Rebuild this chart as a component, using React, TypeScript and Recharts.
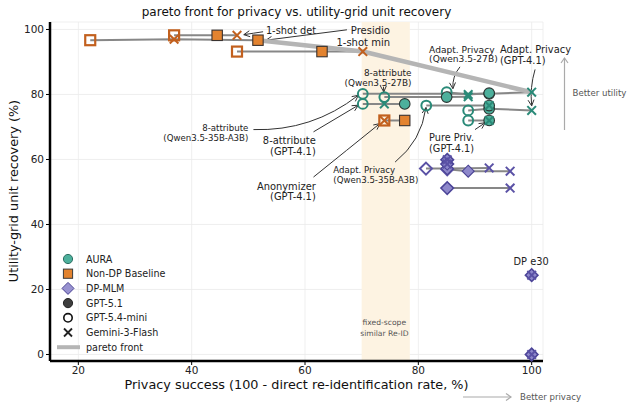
import React from 'react';
import {
  ComposedChart,
  Scatter,
  XAxis,
  YAxis,
  CartesianGrid,
  ReferenceArea,
  ReferenceLine,
  ReferenceDot,
} from 'recharts';

type Pt = { x: number; y: number };

const FONT = '"DejaVu Sans", Verdana, sans-serif';

const xTicks = [20, 40, 60, 80, 100];
const yTicks = [0, 20, 40, 60, 80, 100];

// AURA rewrites; index i is the same rewriting setup for all three evaluator models
const auraMini: Pt[] = [
  { x: 70.2, y: 80.2 },
  { x: 70.2, y: 77.1 },
  { x: 74.0, y: 79.2 },
  { x: 85.0, y: 80.7 },
  { x: 88.8, y: 75.1 },
  { x: 81.4, y: 76.6 },
  { x: 88.8, y: 72.0 },
];
const auraGpt51: Pt[] = [
  { x: 92.5, y: 80.2 },
  { x: 77.6, y: 77.1 },
  { x: 85.0, y: 79.2 },
  { x: 92.5, y: 80.4 },
  { x: 92.5, y: 75.6 },
  { x: 92.5, y: 76.6 },
  { x: 92.5, y: 72.0 },
];
const auraGemini: Pt[] = [
  { x: 100, y: 80.7 },
  { x: 74.0, y: 77.1 },
  { x: 88.8, y: 79.3 },
  { x: 88.8, y: 80.0 },
  { x: 100, y: 75.1 },
  { x: 92.5, y: 76.6 },
  { x: 92.5, y: 72.0 },
];

// Non-DP baselines (Presidio variants, anonymizer)
const baseMini: Pt[] = [
  { x: 22.1, y: 96.7 },
  { x: 36.9, y: 98.2 },
  { x: 48.0, y: 93.2 },
  { x: 74.0, y: 72.0 },
];
const baseGpt51: Pt[] = [
  { x: 51.7, y: 96.7 },
  { x: 44.5, y: 98.2 },
  { x: 63.0, y: 93.2 },
  { x: 77.6, y: 72.0 },
];
const baseGemini: Pt[] = [
  { x: 36.9, y: 97.0 },
  { x: 48.0, y: 98.2 },
  { x: 70.2, y: 93.2 },
  { x: 74.0, y: 72.0 },
];

// DP-MLM at several privacy budgets
const dpMini: Pt[] = [
  { x: 81.35, y: 57.2 },
  { x: 85.1, y: 57.0 },
  { x: 85.1, y: 51.2 },
  { x: 85.1, y: 59.9 },
  { x: 85.1, y: 58.6 },
  { x: 100, y: 24.4 },
  { x: 100, y: 0 },
];
const dpGpt51: Pt[] = [
  { x: 85.1, y: 57.2 },
  { x: 88.8, y: 56.4 },
  { x: 85.1, y: 51.2 },
  { x: 85.1, y: 59.9 },
  { x: 85.1, y: 58.6 },
  { x: 100, y: 24.4 },
  { x: 100, y: 0 },
];
const dpGemini: Pt[] = [
  { x: 92.5, y: 57.4 },
  { x: 96.2, y: 56.4 },
  { x: 96.2, y: 51.2 },
  { x: 85.1, y: 59.9 },
  { x: 85.1, y: 58.6 },
  { x: 100, y: 24.4 },
  { x: 100, y: 0 },
];

const paretoFront: Pt[] = [
  { x: 51.7, y: 96.7 },
  { x: 70.2, y: 93.2 },
  { x: 100, y: 80.7 },
];

// privacy range where fixed-scope runs give similar re-identification
const similarReIdBand = { from: 70, to: 78.5 };

type Note = {
  lines: string[];
  x: number;
  y: number;
  anchor: 'start' | 'middle' | 'end';
  size: number;
  lh: number;
  color?: string;
  arrow?: { x1: number; y1: number; x2: number; y2: number; rad: number };
};

const notes: Note[] = [
  { lines: ['1-shot det'], x: 53.1, y: 99.8, anchor: 'start', size: 9.8, lh: 12,
    arrow: { x1: 52.6, y1: 99.3, x2: 49.2, y2: 98.4, rad: 0 } },
  { lines: ['Presidio', '1-shot min'], x: 75.0, y: 99.8, anchor: 'end', size: 10, lh: 12.7,
    arrow: { x1: 67.4, y1: 99.9, x2: 53.1, y2: 96.7, rad: 0 } },
  { lines: ['8-attribute', '(Qwen3.5-27B)'], x: 78.8, y: 86.6, anchor: 'end', size: 8.9, lh: 9.8,
    arrow: { x1: 73.85, y1: 82.4, x2: 73.9, y2: 80.8, rad: 0 } },
  { lines: ['Adapt. Privacy', '(Qwen3.5-27B)'], x: 81.9, y: 93.8, anchor: 'start', size: 9.1, lh: 9.8,
    arrow: { x1: 87.35, y1: 88.5, x2: 86.1, y2: 81.8, rad: 0.2 } },
  { lines: ['Adapt. Privacy', '(GPT-4.1)'], x: 94.4, y: 93.8, anchor: 'start', size: 9.9, lh: 10.7,
    arrow: { x1: 100.6, y1: 87.7, x2: 100.0, y2: 76.5, rad: 0.1 } },
  { lines: ['8-attribute', '(Qwen3.5-35B-A3B)'], x: 50.0, y: 69.7, anchor: 'end', size: 8.6, lh: 10,
    arrow: { x1: 50.9, y1: 69.2, x2: 69.4, y2: 79.75, rad: 0.18 } },
  { lines: ['8-attribute', '(GPT-4.1)'], x: 61.9, y: 65.7, anchor: 'end', size: 9.9, lh: 10.3,
    arrow: { x1: 61.5, y1: 68.5, x2: 69.4, y2: 76.7, rad: 0 } },
  { lines: ['Anonymizer', '(GPT-4.1)'], x: 61.9, y: 51.75, anchor: 'end', size: 9.9, lh: 10.7,
    arrow: { x1: 61.5, y1: 54.6, x2: 73.2, y2: 71.05, rad: 0 } },
  { lines: ['Adapt. Privacy', '(Qwen3.5-35B-A3B)'], x: 65.0, y: 56.7, anchor: 'start', size: 8.6, lh: 9.3,
    arrow: { x1: 75.9, y1: 59.2, x2: 81.35, y2: 76.0, rad: 0.2 } },
  { lines: ['Pure Priv.', '(GPT-4.1)'], x: 81.9, y: 66.9, anchor: 'start', size: 9.7, lh: 11.6,
    arrow: { x1: 90.0, y1: 69.2, x2: 91.8, y2: 71.3, rad: 0 } },
  { lines: ['DP e30'], x: 99.9, y: 28.7, anchor: 'middle', size: 9.8, lh: 12 },
  { lines: ['fixed-scope', 'similar Re-ID'], x: 74.0, y: 9.7, anchor: 'middle', size: 7.6, lh: 10.6, color: '#555' },
];

type Family = 'aura' | 'base' | 'dp';
type Model = 'mini' | 'gpt51' | 'gemini';

const PALETTE: Record<Family, { edge: string; fill: string; dark: string }> = {
  aura: { edge: '#2a8a78', fill: '#4db09c', dark: '#2b3533' },
  base: { edge: '#c2601e', fill: '#e3832f', dark: '#3a3330' },
  dp: { edge: '#5a51a5', fill: '#8e88cb', dark: '#4a4394' },
};

function Marker({ family, model, cx, cy }: { family: Family; model: Model; cx: number; cy: number }) {
  const c = PALETTE[family];
  if (cx == null || cy == null) return <g />;
  if (model === 'gemini') {
    const s = 4.3;
    return (
      <g stroke={c.edge} strokeWidth={2} strokeLinecap="butt">
        <line x1={cx - s} y1={cy - s} x2={cx + s} y2={cy + s} />
        <line x1={cx - s} y1={cy + s} x2={cx + s} y2={cy - s} />
      </g>
    );
  }
  const filled = model === 'gpt51';
  const fill = filled ? c.fill : 'none';
  const stroke = filled ? c.dark : c.edge;
  const sw = filled ? 1.1 : 2;
  if (family === 'aura') {
    return <circle cx={cx} cy={cy} r={filled ? 5.3 : 4.9} fill={fill} stroke={stroke} strokeWidth={sw} />;
  }
  if (family === 'base') {
    const h = filled ? 5.2 : 5;
    return <rect x={cx - h} y={cy - h} width={2 * h} height={2 * h} fill={fill} stroke={stroke} strokeWidth={filled ? 1.1 : 2.2} />;
  }
  const h = 6;
  return (
    <polygon
      points={`${cx},${cy - h} ${cx + h},${cy} ${cx},${cy + h} ${cx - h},${cy}`}
      fill={fill}
      stroke={stroke}
      strokeWidth={filled ? 1.1 : 2}
    />
  );
}

function Arrow(p: any) {
  const { x1, y1, x2, y2, rad } = p;
  const mx = (x1 + x2) / 2;
  const my = (y1 + y2) / 2;
  const dx = x2 - x1;
  const dy = y2 - y1;
  const qx = mx - rad * dy;
  const qy = my + rad * dx;
  const tx = x2 - qx;
  const ty = y2 - qy;
  const len = Math.hypot(tx, ty) || 1;
  const ux = tx / len;
  const uy = ty / len;
  const hl = 6;
  const hw = 3;
  const bx = x2 - ux * hl;
  const by = y2 - uy * hl;
  return (
    <g fill="none" stroke="#333" strokeWidth={1}>
      <path d={`M${x1},${y1} Q${qx},${qy} ${x2},${y2}`} />
      <polyline points={`${bx - uy * hw},${by + ux * hw} ${x2},${y2} ${bx + uy * hw},${by - ux * hw}`} />
    </g>
  );
}

function NoteText({ cx, cy, note }: { cx: number; cy: number; note: Note }) {
  return (
    <g>
      {note.lines.map((t, i) => (
        <text
          key={i}
          x={cx}
          y={cy + i * note.lh}
          textAnchor={note.anchor}
          dominantBaseline="central"
          fontSize={note.size}
          fontFamily={FONT}
          fill={note.color ?? '#222'}
        >
          {t}
        </text>
      ))}
    </g>
  );
}

const connectorsOf = (a: Pt[], b: Pt[], c: Pt[]) =>
  a.map((_, i) => [a[i], b[i], c[i]].slice().sort((p, q) => p.x - q.x));

const groups: { family: Family; mini: Pt[]; gpt51: Pt[]; gemini: Pt[] }[] = [
  { family: 'base', mini: baseMini, gpt51: baseGpt51, gemini: baseGemini },
  { family: 'aura', mini: auraMini, gpt51: auraGpt51, gemini: auraGemini },
  { family: 'dp', mini: dpMini, gpt51: dpGpt51, gemini: dpGemini },
];

const legendItems: { label: string; kind: string }[] = [
  { label: 'AURA', kind: 'aura' },
  { label: 'Non-DP Baseline', kind: 'base' },
  { label: 'DP-MLM', kind: 'dp' },
  { label: 'GPT-5.1', kind: 'gpt51' },
  { label: 'GPT-5.4-mini', kind: 'mini' },
  { label: 'Gemini-3-Flash', kind: 'gemini' },
  { label: 'pareto front', kind: 'pareto' },
];

function LegendGlyph({ kind, x, y }: { kind: string; x: number; y: number }) {
  switch (kind) {
    case 'aura':
      return <circle cx={x} cy={y} r={4.6} fill="#4db09c" stroke="#2c6e62" strokeWidth={1} />;
    case 'base':
      return <rect x={x - 4.6} y={y - 4.6} width={9.2} height={9.2} fill="#e3832f" stroke="#3a3a3a" strokeWidth={1} />;
    case 'dp':
      return <polygon points={`${x},${y - 6} ${x + 6},${y} ${x},${y + 6} ${x - 6},${y}`} fill="#9892d0" stroke="#4a4394" strokeWidth={1} />;
    case 'gpt51':
      return <circle cx={x} cy={y} r={4.6} fill="#3d3d3d" stroke="#222" strokeWidth={1} />;
    case 'mini':
      return <circle cx={x} cy={y} r={4.2} fill="none" stroke="#111" strokeWidth={1.6} />;
    case 'gemini':
      return (
        <g stroke="#222" strokeWidth={1.8}>
          <line x1={x - 4} y1={y - 4} x2={x + 4} y2={y + 4} />
          <line x1={x - 4} y1={y + 4} x2={x + 4} y2={y - 4} />
        </g>
      );
    default:
      return <line x1={x - 11} y1={y} x2={x + 12} y2={y} stroke="#b5b5b5" strokeWidth={4} />;
  }
}

const blank = () => <g />;

export default function App() {
  return (
    <div style={{ position: 'absolute', left: 0, top: 0, width: 638, height: 410, background: '#fff' }}>
      <ComposedChart width={638} height={410} margin={{ top: 22, right: 95, bottom: 0, left: 0 }}>
        <ReferenceArea
          x1={similarReIdBand.from}
          x2={similarReIdBand.to}
          fill="#fdf3e2"
          fillOpacity={1}
          stroke="none"
        />
        <CartesianGrid stroke="#ebebeb" strokeWidth={0.8} />
        <XAxis
          type="number"
          dataKey="x"
          domain={[15, 102]}
          ticks={xTicks}
          height={49}
          tickSize={4}
          axisLine={{ stroke: '#000', strokeWidth: 2.5 }}
          tickLine={{ stroke: '#000' }}
          tick={{ fill: '#222', fontSize: 10.5, fontFamily: FONT }}
        />
        <YAxis
          type="number"
          dataKey="y"
          domain={[-2, 102.3]}
          ticks={yTicks}
          width={50}
          tickSize={4}
          axisLine={{ stroke: '#000', strokeWidth: 2.5 }}
          tickLine={{ stroke: '#000' }}
          tick={{ fill: '#222', fontSize: 10.5, fontFamily: FONT }}
        />
        {groups.flatMap((g) =>
          connectorsOf(g.mini, g.gpt51, g.gemini).map((seg, i) => (
            <Scatter
              key={`${g.family}-link-${i}`}
              data={seg}
              line={{ stroke: '#878787', strokeWidth: 2 }}
              shape={blank}
              isAnimationActive={false}
            />
          ))
        )}
        <Scatter
          data={paretoFront}
          line={{ stroke: '#b5b5b5', strokeWidth: 4.6, strokeLinecap: 'round', strokeLinejoin: 'round' }}
          shape={blank}
          isAnimationActive={false}
        />
        {groups.flatMap((g) =>
          (['mini', 'gpt51', 'gemini'] as Model[]).map((m) => (
            <Scatter
              key={`${g.family}-${m}`}
              data={g[m]}
              shape={(p: any) => <Marker family={g.family} model={m} cx={p.cx} cy={p.cy} />}
              isAnimationActive={false}
            />
          ))
        )}
        {notes
          .filter((n) => n.arrow)
          .map((n, i) => (
            <ReferenceLine
              key={`arrow-${i}`}
              segment={[
                { x: n.arrow!.x1, y: n.arrow!.y1 },
                { x: n.arrow!.x2, y: n.arrow!.y2 },
              ]}
              shape={(p: any) => <Arrow {...p} rad={n.arrow!.rad} />}
            />
          ))}
        {notes.map((n, i) => (
          <ReferenceDot
            key={`note-${i}`}
            x={n.x}
            y={n.y}
            r={0}
            shape={(p: any) => <NoteText cx={p.cx} cy={p.cy} note={n} />}
          />
        ))}
      </ComposedChart>
      <svg
        width={638}
        height={410}
        style={{ position: 'absolute', left: 0, top: 0, pointerEvents: 'none' }}
        fontFamily={FONT}
      >
        <text x={296.5} y={12} textAnchor="middle" dominantBaseline="central" fontSize={12} fill="#111">
          pareto front for privacy vs. utility-grid unit recovery
        </text>
        <text x={296.5} y={384} textAnchor="middle" dominantBaseline="central" fontSize={12.8} fill="#111">
          Privacy success (100 - direct re-identification rate, %)
        </text>
        <text
          x={13}
          y={191}
          textAnchor="middle"
          dominantBaseline="central"
          fontSize={12.8}
          fill="#111"
          transform="rotate(-90 13 191)"
        >
          Utility-grid unit recovery (%)
        </text>
        {legendItems.map((it, i) => {
          const y = 259 + i * 14.7;
          return (
            <g key={it.label}>
              <LegendGlyph kind={it.kind} x={68} y={y} />
              <text x={86} y={y} dominantBaseline="central" fontSize={9.6} fill="#222">
                {it.label}
              </text>
            </g>
          );
        })}
        <g stroke="#aaa" strokeWidth={1.2} fill="none">
          <line x1={564.5} y1={130} x2={564.5} y2={58} />
          <polyline points="561,63 564.5,58 568,63" />
          <line x1={463} y1={397} x2={511} y2={397} />
          <polyline points="506,393.5 511,397 506,400.5" />
        </g>
        <text x={572.5} y={93.3} dominantBaseline="central" fontSize={8.6} fill="#555">
          Better utility
        </text>
        <text x={520} y={397} dominantBaseline="central" fontSize={8.6} fill="#555">
          Better privacy
        </text>
      </svg>
    </div>
  );
}
